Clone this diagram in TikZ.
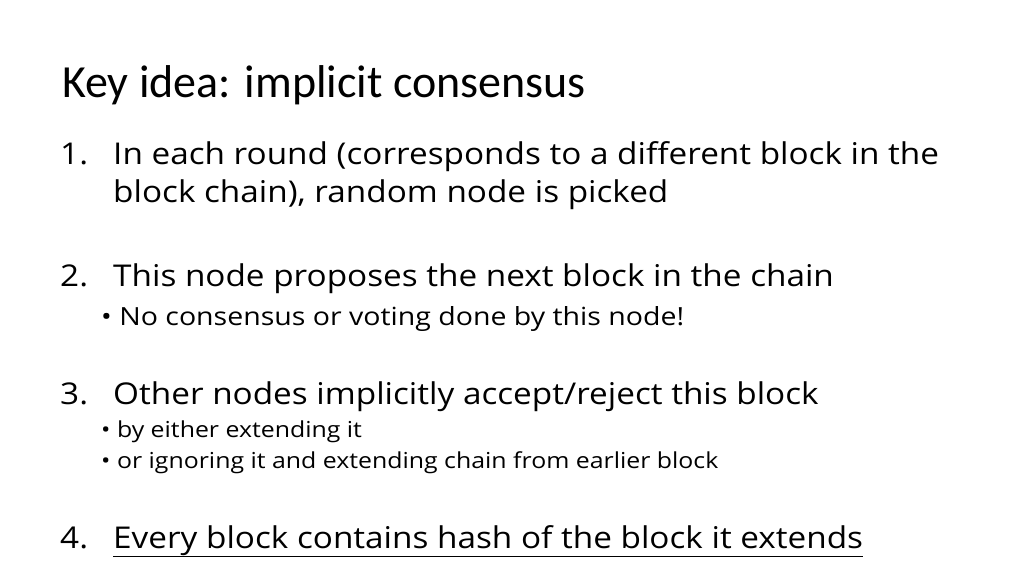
\documentclass[tikz,border=0pt]{standalone}
\usepackage{fontspec}
\setmainfont{Carlito}
\newfontfamily\bodyfont{Open Sans}
\tikzset{
  title/.style={anchor=base west,inner sep=0pt,font=\fontsize{46}{50}\selectfont},
  item/.style={anchor=base west,inner sep=0pt,xscale=1.11,transform shape,font=\bodyfont\fontsize{30}{36}\selectfont},
  sub/.style={anchor=base west,inner sep=0pt,xscale=1.14,transform shape,font=\bodyfont\fontsize{25}{30}\selectfont},
  subb/.style={anchor=base west,inner sep=0pt,xscale=1.13,transform shape,font=\bodyfont\fontsize{22}{28}\selectfont}
}
\begin{document}
\begin{tikzpicture}[x=1pt,y=1pt]
\useasboundingbox (0,0) rectangle (1024,576);
\node[title] (ttl) at (62,478) {Key idea: implicit consensus};
% numbered items
\node[item] (n1) at (60,411) {1.};
\node[item] (i1a) at (113,411) {In each round (corresponds to a different block in the};
\node[item] (i1b) at (113,373) {block chain), random node is picked};
\node[item] (n2) at (60,289) {2.};
\node[item] (i2) at (113,289) {This node proposes the next block in the chain};
\node[sub] (s2) at (101,251) {\textbullet\ No consensus or voting done by this node!};
\node[item] (n3) at (60,172) {3.};
\node[item] (i3) at (113,172) {Other nodes implicitly accept/reject this block};
\node[subb] (s3a) at (101,139) {\textbullet\ by either extending it};
\node[subb] (s3b) at (101,108) {\textbullet\ or ignoring it and extending chain from earlier block};
\node[item] (n4) at (60,28) {4.};
\node[item] (i4) at (113,28) {\underline{Every block contains hash of the block it extends}};
\end{tikzpicture}
\end{document}
